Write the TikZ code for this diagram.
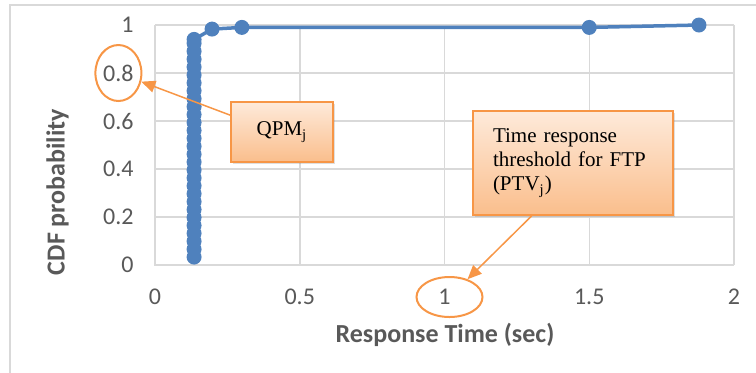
\documentclass[tikz,border=0pt]{standalone}
\usepackage{fontspec}
\setmainfont{Liberation Serif}
\newfontfamily\chartfont{Carlito}
\usetikzlibrary{shapes.geometric,shadows,arrows.meta}
\definecolor{seriesblue}{RGB}{79,129,189}
\definecolor{gridgray}{RGB}{217,217,217}
\definecolor{labelgray}{RGB}{89,89,89}
\definecolor{noteorange}{RGB}{247,150,70}
\definecolor{notetop}{RGB}{254,234,218}
\definecolor{notebottom}{RGB}{250,190,140}
\begin{document}
\begin{tikzpicture}[x=0.5pt,y=-0.5pt,
	gridline/.style={draw=gridgray, line width=0.75pt},
	ticklabel/.style={font=\chartfont\fontsize{12}{14}\selectfont, text=labelgray, inner sep=0pt},
	axistitle/.style={font=\chartfont\bfseries\fontsize{13}{15}\selectfont, text=labelgray, inner sep=0pt},
	callout/.style={draw=noteorange, line width=0.8pt, top color=notetop, bottom color=notebottom,
		drop shadow={shadow xshift=1pt, shadow yshift=-1pt, opacity=0.25}, font=\fontsize{10.5}{12}\selectfont},
	ring/.style={ellipse, draw=noteorange, line width=1pt, inner sep=0pt},
	pointer/.style={draw=noteorange, line width=0.75pt, -{Triangle[length=7pt,width=6pt]}},
	seriesline/.style={draw=seriesblue, line width=1.75pt}]
	\useasboundingbox (0,0) rectangle (756,372);

	%%chart frame
	\draw[gridline] (10,5) rectangle (780,400);

	\begin{scope}[shift={(155,265)}, x=144.75pt, y=120pt]
		%%grid and axes
		\foreach \y in {0.2,0.4,...,1}
			\draw[gridline] (0,\y) -- (2,\y);
		\foreach \x in {0.5,1,1.5,2}
			\draw[gridline] (\x,0) -- (\x,1);
		\draw[gridline] (0,1) -- (0,0) -- (2,0);

		%%tick labels
		\foreach \y [count=\i] in {0,0.2,0.4,0.6,0.8,1}
			\node[ticklabel, anchor=east] (ytick\i) at ([xshift=-10.5pt]0,\y) {\y};
		\foreach \x [count=\i] in {0,0.5,1,1.5,2}
			\node[ticklabel] (xtick\i) at ([yshift=-16pt]\x,0) {\x};

		%%the series
		\draw[seriesline] (0.135,0.033) -- (0.135,0.94) -- (0.197,0.983) -- (0.3,0.99) -- (1.5,0.99) -- (1.879,1);
		\foreach \p in {0.033,0.066,...,0.93}
			\fill[seriesblue] (0.135,\p) circle[radius=3.75pt];
		\foreach \x/\y in {0.135/0.94,0.197/0.983,0.3/0.99,1.5/0.99,1.879/1}
			\fill[seriesblue] (\x,\y) circle[radius=3.75pt];
	\end{scope}

	%%axis titles
	\node[axistitle, rotate=90] (ytitle) at (57.5,192) {CDF probability};
	\node[axistitle] (xtitle) at (445,335) {Response Time (sec)};

	%%rings round the marked labels
	\node[ring, minimum width=23pt, minimum height=28pt] (ring08) at (ytick5) {};
	\node[ring, minimum width=33pt, minimum height=20pt] (ring1) at ([xshift=2.5pt]xtick3) {};

	%%callouts
	\node[callout, minimum width=51pt, minimum height=30pt] (qpm) at (282,132) {QPM\textsubscript{j}};
	\node[callout, minimum width=100pt, minimum height=52pt, text width=80pt, align=left] (ftp) at (573,163)
		{Time response\\threshold for FTP\\(PTV\textsubscript{j})};
	\draw[pointer] (qpm.162) -- (ring08);
	\draw[pointer] (ftp.232) -- (ring1);
\end{tikzpicture}
\end{document}
